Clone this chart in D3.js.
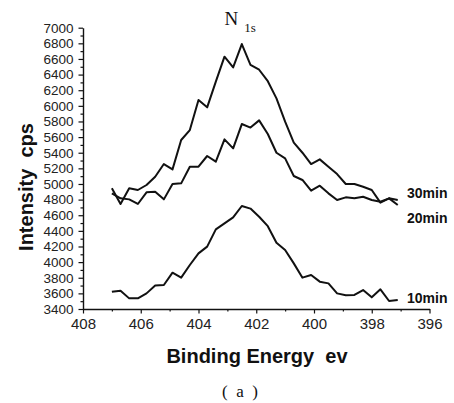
<!DOCTYPE html>
<html>
<head>
<meta charset="utf-8">
<script src="https://cdnjs.cloudflare.com/ajax/libs/d3/7.8.5/d3.min.js"></script>
<style>
	html, body { margin: 0; padding: 0; background: #fff; }
	svg { display: block; }
	.tick text { fill: #222; }
</style>
</head>
<body>
<div id="chart"></div>
<script>
// binding energy (eV), 0.3 eV step from 407 down to 397.1
var energy = [407.0,406.7,406.4,406.1,405.8,405.5,405.2,404.9,404.6,404.3,404.0,403.7,403.4,403.1,402.8,402.5,402.2,
	401.9,401.6,401.3,401.0,400.7,400.4,400.1,399.8,399.5,399.2,398.9,398.6,398.3,398.0,397.7,397.4,397.1];

// intensity (cps)
var min10 = [3620,3635,3536,3536,3600,3700,3707,3865,3801,3963,4112,4198,4419,4496,4573,4718,4685,
	4581,4460,4249,4155,3984,3801,3835,3750,3728,3600,3575,3580,3643,3549,3652,3502,3515];
var min20 = [4880,4816,4803,4744,4893,4900,4803,5000,5008,5221,5221,5358,5285,5571,5456,5767,5722,
	5814,5640,5400,5328,5102,5051,4914,4978,4880,4795,4829,4816,4837,4795,4773,4816,4795];
var min30 = [4944,4744,4944,4923,4987,5093,5255,5187,5563,5690,6074,5981,6309,6629,6492,6791,6525,
	6462,6315,6096,5797,5528,5400,5255,5315,5221,5127,5000,5000,4965,4923,4761,4816,4731];

var seriesNames = ["30min","20min","10min"];
var seriesData = [min30, min20, min10];

var xTicks = [408,406,404,402,400,398,396];
var yTicks = d3.range(3400, 7001, 200);

(function() {
	var W = 454, H = 403;
	var sans = "'Liberation Sans', Arial, sans-serif";
	var serif = "'Liberation Serif', 'Times New Roman', serif";

	var svg = d3.select("#chart").append("svg")
		.attr("width", W).attr("height", H)
		.style("background", "#fff");

	// plot box (pixel positions measured on the reference)
	var plotLeft = 83, plotRight = 429.5, plotTop = 27.7, plotBottom = 309;

	var x = d3.scaleLinear().domain([408, 396]).range([plotLeft, plotRight]);
	var y = d3.scaleLinear().domain([3400, 7000]).range([plotBottom, plotTop]);

	// minor ticks first so the major ones sit on top
	svg.append("g")
		.attr("transform", "translate(0," + plotBottom + ")")
		.call(d3.axisBottom(x).tickValues(d3.range(407, 396, -2)).tickSize(2.5).tickFormat(""))
		.call(function(g) { g.select(".domain").remove(); })
		.selectAll("line").attr("stroke", "#111").attr("stroke-width", 1.2);

	svg.append("g")
		.attr("transform", "translate(" + plotLeft + ",0)")
		.call(d3.axisLeft(y).tickValues(d3.range(3500, 7000, 200)).tickSize(2.5).tickFormat(""))
		.call(function(g) { g.select(".domain").remove(); })
		.selectAll("line").attr("stroke", "#111").attr("stroke-width", 1.2);

	var xAxis = svg.append("g")
		.attr("transform", "translate(0," + plotBottom + ")")
		.call(d3.axisBottom(x).tickValues(xTicks).tickSize(4.5).tickSizeOuter(0).tickFormat(d3.format("d")));
	xAxis.select(".domain").attr("stroke", "#111").attr("stroke-width", 1.4);
	xAxis.selectAll("line").attr("stroke", "#111").attr("stroke-width", 1.2);
	xAxis.selectAll("text")
		.style("font-family", sans).style("font-size", "15px")
		.attr("y", 20).attr("dy", null);

	var yAxis = svg.append("g")
		.attr("transform", "translate(" + plotLeft + ",0)")
		.call(d3.axisLeft(y).tickValues(yTicks).tickSize(4.5).tickSizeOuter(0).tickFormat(d3.format("d")));
	yAxis.select(".domain").attr("stroke", "#111").attr("stroke-width", 1.4);
	yAxis.selectAll("line").attr("stroke", "#111").attr("stroke-width", 1.2);
	yAxis.selectAll("text")
		.style("font-family", sans).style("font-size", "13.5px")
		.attr("x", -9.5);

	// the three spectra
	var line = d3.line()
		.x(function(d, i) { return x(energy[i]); })
		.y(function(d) { return y(d); });

	svg.selectAll("path.spectrum")
		.data(seriesData)
		.enter().append("path")
		.attr("class", "spectrum")
		.attr("d", line)
		.attr("fill", "none")
		.attr("stroke", "#111")
		.attr("stroke-width", 2)
		.attr("stroke-linejoin", "round");

	// curve labels at the right end
	var labelY = [197.5, 222.5, 303];
	svg.selectAll("text.series")
		.data(seriesNames)
		.enter().append("text")
		.attr("class", "series")
		.attr("x", 407)
		.attr("y", function(d, i) { return labelY[i]; })
		.style("font-family", sans).style("font-size", "14px").style("font-weight", "bold")
		.attr("fill", "#111")
		.text(function(d) { return d; });

	// title N 1s
	var title = svg.append("text")
		.attr("x", 224.5).attr("y", 25)
		.style("font-family", serif).attr("fill", "#111");
	title.append("tspan").style("font-size", "19px").text("N");
	title.append("tspan").attr("dx", 6).attr("dy", 6.5).style("font-size", "13px").text("1s");

	// axis titles
	svg.append("text")
		.attr("x", 257).attr("y", 362.5)
		.attr("text-anchor", "middle")
		.style("font-family", sans).style("font-size", "20px").style("font-weight", "bold")
		.style("white-space", "pre")
		.attr("fill", "#111")
		.text("Binding Energy  ev");

	svg.append("text")
		.attr("transform", "translate(33,187) rotate(-90)")
		.attr("text-anchor", "middle")
		.style("font-family", sans).style("font-size", "20px").style("font-weight", "bold")
		.style("white-space", "pre")
		.attr("fill", "#111")
		.text("Intensity  cps");

	svg.append("text")
		.attr("x", 240).attr("y", 397)
		.attr("text-anchor", "middle")
		.style("font-family", serif).style("font-size", "17px")
		.attr("fill", "#111")
		.text("(\u2002a\u2002)");
})();
</script>
</body>
</html>
